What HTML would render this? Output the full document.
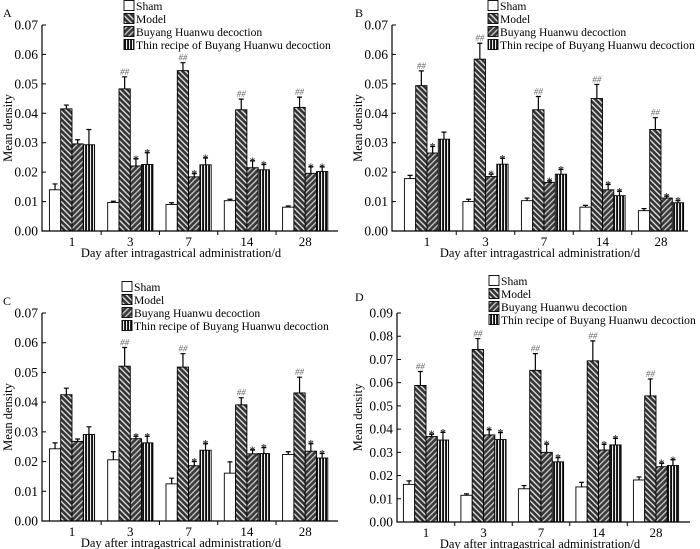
<!DOCTYPE html>
<html><head><meta charset="utf-8">
<style>
html,body{margin:0;padding:0;background:#fff;}
svg{display:block;font-family:"Liberation Serif",serif;}
</style></head>
<body>
<svg id="fig" width="700" height="549" viewBox="0 0 700 549" xmlns="http://www.w3.org/2000/svg">
<defs>
<pattern id="pModel" patternUnits="userSpaceOnUse" width="4" height="4" patternTransform="rotate(-45)">
<rect width="4" height="4" fill="#333"/><rect width="1.4" height="4" fill="#ddd"/></pattern>
<pattern id="pBhd" patternUnits="userSpaceOnUse" width="4" height="4" patternTransform="rotate(45)">
<rect width="4" height="4" fill="#3a3a3a"/><rect width="1.3" height="4" fill="#ccc"/></pattern>
<pattern id="pThin" patternUnits="userSpaceOnUse" width="3" height="4">
<rect width="3" height="4" fill="#111"/><rect width="1.1" height="4" fill="#eee"/></pattern>
</defs>
</svg>
<script>
const categories = ["1","3","7","14","28"];
const seriesNames = ["Sham","Model","Buyang Huanwu decoction","Thin recipe of Buyang Huanwu decoction"];
// Panel A
const aSham = [0.014,0.0097,0.009,0.0103,0.0081];
const aShamErr = [0.002,0.0004,0.0006,0.0005,0.0004];
const aModel = [0.0415,0.0483,0.0545,0.0412,0.042];
const aModelErr = [0.0013,0.0041,0.0027,0.0036,0.0035];
const aBhd = [0.0296,0.0221,0.0184,0.0215,0.0196];
const aBhdErr = [0.0014,0.0024,0.0011,0.0023,0.0022];
const aThin = [0.0293,0.0226,0.0225,0.0208,0.0202];
const aThinErr = [0.0052,0.004,0.0023,0.0018,0.0016];
const aModelSig = [0,1,1,1,1];
const aBhdSig = [0,1,1,1,1];
const aThinSig = [0,1,1,1,1];
// Panel B
const bSham = [0.0178,0.01,0.0103,0.0081,0.0069];
const bShamErr = [0.0011,0.0008,0.0009,0.0006,0.0007];
const bModel = [0.0494,0.0584,0.0412,0.045,0.0345];
const bModelErr = [0.005,0.0054,0.0045,0.0048,0.004];
const bBhd = [0.0265,0.0185,0.0165,0.014,0.0112];
const bBhdErr = [0.0022,0.0008,0.0005,0.0018,0.0006];
const bThin = [0.0312,0.0227,0.0193,0.012,0.0096];
const bThinErr = [0.0024,0.002,0.0016,0.0015,0.0007];
const bModelSig = [1,1,1,1,1];
const bBhdSig = [1,1,1,1,1];
const bThinSig = [0,1,1,1,1];
// Panel C
const cSham = [0.0243,0.0206,0.0125,0.0161,0.0224];
const cShamErr = [0.002,0.0027,0.0019,0.0038,0.0009];
const cModel = [0.0425,0.0521,0.0518,0.0391,0.0431];
const cModelErr = [0.0022,0.0063,0.0045,0.0024,0.0053];
const cBhd = [0.0268,0.0277,0.0186,0.0226,0.0235];
const cBhdErr = [0.0008,0.0008,0.0014,0.0013,0.0025];
const cThin = [0.0291,0.0263,0.0238,0.0227,0.0212];
const cThinErr = [0.0026,0.0022,0.0022,0.002,0.0015];
const cModelSig = [0,1,1,1,1];
const cBhdSig = [0,1,1,1,1];
const cThinSig = [0,1,1,1,1];
// Panel D
const dSham = [0.0162,0.0115,0.0143,0.0151,0.0181];
const dShamErr = [0.0015,0.0006,0.0014,0.002,0.0013];
const dModel = [0.0588,0.0743,0.0653,0.0694,0.0543];
const dModelErr = [0.006,0.0047,0.0072,0.0086,0.0073];
const dBhd = [0.0368,0.0375,0.03,0.031,0.0238];
const dBhdErr = [0.001,0.0022,0.0035,0.0024,0.0015];
const dThin = [0.0353,0.0355,0.0259,0.0332,0.0243];
const dThinErr = [0.0033,0.003,0.0018,0.0028,0.0025];
const dModelSig = [1,1,1,1,1];
const dBhdSig = [1,1,1,1,1];
const dThinSig = [1,1,1,1,1];
const ticks70 = ["0.00","0.01","0.02","0.03","0.04","0.05","0.06","0.07"];
const ticks90 = ["0.00","0.01","0.02","0.03","0.04","0.05","0.06","0.07","0.08","0.09"];

const NS = "http://www.w3.org/2000/svg";
const svg = document.getElementById("fig");
function mk(tag, parent, attrs){
  const e = document.createElementNS(NS, tag);
  for (const k in attrs) e.setAttribute(k, attrs[k]);
  parent.appendChild(e);
  return e;
}
const fills = ["#fff","url(#pModel)","url(#pBhd)","url(#pThin)"];
const keys = ["sham","model","bhd","thin"];

function panel(cfg){
  const g = mk("g", svg, {});
  
  
  const ymax = cfg.ticks.length - 1;
  const y = v => cfg.y0 - (v / 0.01) * ((cfg.y0 - cfg.yTop) / ymax);
  const xc = i => cfg.x0 + cfg.first + i * cfg.step;
  const bw = 11.3;
  const pl = mk("text", g, {x: cfg.labX, y: cfg.labY, "font-size": 12, fill: "#000"});
  pl.textContent = cfg.id;
  
  
  cfg.series.forEach((s, si) => {
    s.vals.forEach((v, i) => {
      const x = xc(i) - 2 * bw + si * bw;
      const top = y(v);
      const r = mk("rect", g, {x: x, y: top, width: bw, height: cfg.y0 - top, fill: fills[si], stroke: "#000", "stroke-width": 0.9});
      
      
      const et = y(v + s.err[i]);
      const eb = mk("path", g, {d: `M${x+bw/2} ${top}V${et}M${x+bw/2-2.5} ${et}H${x+bw/2+2.5}`, stroke: "#000", "stroke-width": 1.2, fill: "none"});
      
      
      if (s.sig && s.sig[i]) {
        const t = mk("text", g, {x: x + bw/2, y: si === 1 ? et - 2 : et + 4, "text-anchor": "middle", "font-size": si === 1 ? 9 : 12, fill: si === 1 ? "#666" : "#000", "font-style": si === 1 ? "italic" : "normal"});
        t.textContent = si === 1 ? "##" : "*";
        
        
      }
    });
  });
  const ax = mk("path", g, {d: `M${cfg.x0} ${cfg.yTop}V${cfg.y0}H${cfg.xEnd}`, stroke: "#000", "stroke-width": 1.2, fill: "none"});
  
  
  cfg.ticks.forEach((lab, k) => {
    const yy = y(k * 0.01);
    mk("path", g, {d: `M${cfg.x0} ${yy}H${cfg.x0 + 4}`, stroke: "#000", "stroke-width": 1});
    const t = mk("text", g, {x: cfg.x0 - 4, y: yy + 4.5, "text-anchor": "end", "font-size": 13.5, fill: "#000"});
    t.textContent = lab;
    
    
  });
  categories.forEach((c, i) => {
    if (i > 0) mk("path", g, {d: `M${(xc(i) + xc(i-1)) / 2} ${cfg.y0}V${cfg.y0 + 4}`, stroke: "#000", "stroke-width": 1});
    const t = mk("text", g, {x: xc(i), y: cfg.y0 + 15, "text-anchor": "middle", "font-size": 13, fill: "#000"});
    t.textContent = c;
    
    
  });
  const xt = mk("text", g, {x: cfg.xTitleX, y: cfg.y0 + 26, "text-anchor": "middle", "font-size": 12.5, fill: "#000"});
  xt.textContent = "Day after intragastrical administration/d";
  
  
  const ym = (cfg.y0 + cfg.yTop) / 2;
  const yt = mk("text", g, {x: cfg.yTitleX, y: ym, "text-anchor": "middle", "font-size": 12.5, fill: "#000", transform: `rotate(-90 ${cfg.yTitleX} ${ym})`});
  yt.textContent = "Mean density";
  
  
  seriesNames.forEach((n, si) => {
    const ly = cfg.legY + si * 13;
    const le = mk("g", g, {});
    
    
    mk("rect", le, {x: cfg.legX, y: ly - 9.5, width: 10, height: 10, fill: fills[si], stroke: "#000", "stroke-width": 0.9});
    const t = mk("text", le, {x: cfg.legX + 12, y: ly, "font-size": 11.6, fill: "#000"});
    t.textContent = n;
  });
}

panel({id:"A", x0:42, xEnd:338, y0:231, yTop:25, first:30, step:58.3, ticks:ticks70, labX:3, labY:17, legX:124, legY:10, xTitleX:181, yTitleX:12,
  series:[{vals:aSham,err:aShamErr},{vals:aModel,err:aModelErr,sig:aModelSig},{vals:aBhd,err:aBhdErr,sig:aBhdSig},{vals:aThin,err:aThinErr,sig:aThinSig}]});
panel({id:"B", x0:392, xEnd:688, y0:231, yTop:25, first:35, step:58.5, ticks:ticks70, labX:355, labY:17, legX:488, legY:10, xTitleX:540, yTitleX:362,
  series:[{vals:bSham,err:bShamErr},{vals:bModel,err:bModelErr,sig:bModelSig},{vals:bBhd,err:bBhdErr,sig:bBhdSig},{vals:bThin,err:bThinErr,sig:bThinSig}]});
panel({id:"C", x0:42, xEnd:338, y0:521, yTop:313, first:30, step:58.3, ticks:ticks70, labX:3, labY:305, legX:122, legY:291, xTitleX:181, yTitleX:12,
  series:[{vals:cSham,err:cShamErr},{vals:cModel,err:cModelErr,sig:cModelSig},{vals:cBhd,err:cBhdErr,sig:cBhdSig},{vals:cThin,err:cThinErr,sig:cThinSig}]});
panel({id:"D", x0:397, xEnd:690, y0:522, yTop:313, first:29, step:57.5, ticks:ticks90, labX:355, labY:301, legX:489, legY:285, xTitleX:540, yTitleX:362,
  series:[{vals:dSham,err:dShamErr},{vals:dModel,err:dModelErr,sig:dModelSig},{vals:dBhd,err:dBhdErr,sig:dBhdSig},{vals:dThin,err:dThinErr,sig:dThinSig}]});
</script>
</body></html>
